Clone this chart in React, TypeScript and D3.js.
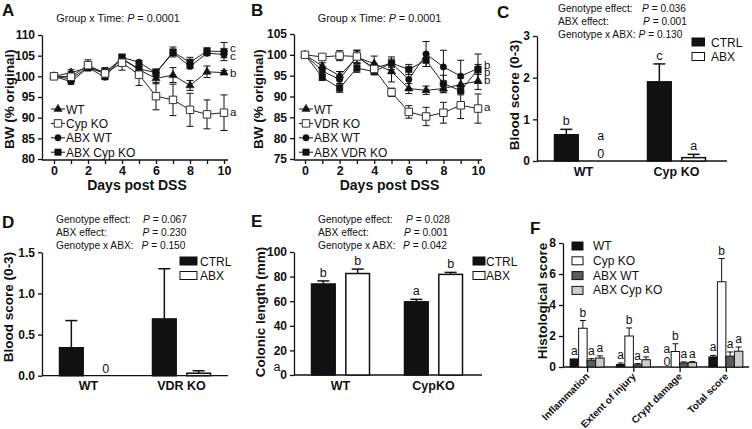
import React, { useEffect, useRef } from 'react';
import * as d3 from 'd3';

const FONT = '"Liberation Sans", Arial, Helvetica, sans-serif';
const INK = '#111';

// ---- A / B: body weight over days post DSS ----
const days = [0, 1, 2, 3, 4, 5, 6, 7, 8, 9, 10];

const aTicks = [80, 85, 90, 95, 100, 105, 110];
const aWT = [100, 100.9, 102.1, 100.7, 104.2, 101.6, 99.5, 100.3, 97.8, 101.1, 100.9];
const aWTErr = [0, 0.7, 0.8, 1.2, 1.0, 1.1, 1.3, 1.8, 1.2, 1.4, 0.5];
const aCypKO = [100, 99.9, 102.7, 100.7, 103.3, 100.4, 95.2, 94.3, 91.9, 90.8, 91.2];
const aCypKOErr = [0, 1.2, 1.3, 1.4, 1.8, 2.6, 3.3, 3.8, 4.0, 3.5, 4.3];
const aAbxWT = [100, 98.7, 102.1, 99.8, 104.6, 103.4, 100.8, 105.7, 102.4, 105.6, 105.3];
const aAbxWTErr = [0, 0.6, 0.5, 0.6, 0.8, 0.4, 0.8, 0.7, 0.5, 0.6, 0.8];
const aAbxCypKO = [100, 99.4, 102.2, 101.0, 104.3, 101.8, 100.9, 105.9, 103.4, 106.1, 106.0];
const aAbxCypKOErr = [0, 0.8, 0.6, 0.8, 0.9, 0.5, 0.9, 1.2, 1.2, 0.8, 2.2];
const aLetters = ['c', 'c', 'b', 'a'];
const aLetterLevels = [106.9, 104.8, 100.8, 91.4];

const bTicks = [75, 80, 85, 90, 95, 100, 105];
const bWT = [100, 97.3, 95.0, 99.4, 97.9, 96.0, 91.9, 91.5, 91.9, 92.9, 93.7];
const bWTErr = [0, 0.8, 1.0, 1.5, 1.8, 2.5, 1.2, 1.0, 1.0, 1.5, 2.0];
const bVdrKO = [100, 99.5, 99.8, 99.6, 96.6, 91.0, 86.3, 85.2, 86.1, 87.9, 87.1];
const bVdrKOErr = [0, 0.5, 1.2, 1.5, 1.2, 1.0, 1.5, 2.2, 2.5, 3.2, 3.5];
const bAbxWT = [100, 96.1, 94.1, 99.6, 96.8, 98.0, 94.1, 100.2, 97.1, 94.9, 96.7];
const bAbxWTErr = [0, 0.8, 1.0, 1.5, 0.8, 1.5, 2.5, 3.0, 4.0, 3.8, 3.5];
const bAbxVdrKO = [100, 94.6, 92.0, 96.8, 96.0, 98.0, 96.5, 98.7, 93.1, 91.4, 96.5];
const bAbxVdrKOErr = [0, 0.7, 1.0, 1.0, 0.8, 1.0, 1.2, 1.5, 2.0, 1.0, 1.2];
const bLetters = ['b', 'b', 'b', 'a'];
const bLetterLevels = [97.6, 95.8, 94.0, 87.4];

// ---- C / D / E: blood score and colon length ----
const treatments = ['CTRL', 'ABX'];
const statNames = ['Genotype effect:', 'ABX effect:', 'Genotype x ABX:'];

const cGroups = ['WT', 'Cyp KO'];
const cTicks = [0, 1, 2, 3];
const cCtrl = [0.63, 1.9];
const cCtrlErr = [0.13, 0.43];
const cAbx = [0, 0.08];
const cAbxErr = [0, 0.08];
const cCtrlLetters = ['b', 'c'];
const cAbxLetters = ['a', 'a'];
const cP = ['0.036', '0.001', '0.130'];

const dGroups = ['WT', 'VDR KO'];
const dTicks = [0, 0.5, 1.0, 1.5];
const dCtrl = [0.34, 0.69];
const dCtrlErr = [0.33, 0.61];
const dAbx = [0, 0.03];
const dAbxErr = [0, 0.03];
const dP = ['0.067', '0.230', '0.150'];

const eGroups = ['WT', 'CypKO'];
const eTicks = [0, 20, 40, 60, 80, 100];
const eCtrl = [74, 59.5];
const eCtrlErr = [2.5, 2.0];
const eAbx = [82.5, 81.8];
const eAbxErr = [3.6, 1.6];
const eCtrlLetters = ['b', 'a'];
const eAbxLetters = ['b', 'b'];
const eP = ['0.028', '0.001', '0.042'];

// ---- F: histology ----
const histCategories = ['Inflammation', 'Extent of injury', 'Crypt damage', 'Total score'];
const histSeries = ['WT', 'Cyp KO', 'ABX WT', 'ABX Cyp KO'];
const fTicks = [0, 2, 4, 6, 8];
const fWT = [0.52, 0.16, 0, 0.65];
const fWTErr = [0, 0.1, 0, 0.1];
const fCypKO = [2.5, 2.0, 1.0, 5.5];
const fCypKOErr = [0.5, 0.52, 0.5, 1.5];
const fAbxWT = [0.44, 0.14, 0.26, 0.7];
const fAbxWTErr = [0.1, 0.08, 0.07, 0.27];
const fAbxCypKO = [0.58, 0.47, 0.28, 1.02];
const fAbxCypKOErr = [0.14, 0.18, 0.07, 0.27];
const fWTLetters = ['a', 'a', 'a', 'a'];
const fCypKOLetters = ['b', 'b', 'b', 'b'];
const fAbxWTLetters = ['a', 'a', 'a', 'a'];
const fAbxCypKOLetters = ['a', 'a', 'a', 'a'];

type Sel = d3.Selection<any, unknown, null, undefined>;
type Kind = 'tri' | 'open' | 'circle' | 'square';

function label(g: Sel, x: number, y: number, s: string, size: number, weight = 'normal', anchor = 'start') {
  return g.append('text')
    .attr('x', x)
    .attr('y', y)
    .attr('font-size', size)
    .attr('font-weight', weight)
    .attr('text-anchor', anchor)
    .attr('fill', INK)
    .text(s);
}

function pText(g: Sel, x: number, y: number, value: string, size: number) {
  const t = g.append('text')
    .attr('x', x)
    .attr('y', y)
    .attr('font-size', size)
    .attr('fill', INK);
  t.append('tspan').attr('font-style', 'italic').text('P');
  t.append('tspan').text(` = ${value}`);
}

function yTitle(g: Sel, x: number, y: number, s: string) {
  g.append('text')
    .attr('transform', `translate(${x},${y}) rotate(-90)`)
    .attr('text-anchor', 'middle')
    .attr('font-size', 13.5)
    .attr('font-weight', 'bold')
    .attr('fill', INK)
    .text(s);
}

function styleAxis(s: Sel, size: number) {
  s.attr('font-family', FONT).attr('font-size', size).attr('font-weight', 'bold');
  s.selectAll('.domain').attr('stroke', INK).attr('stroke-width', 1.3);
  s.selectAll('.tick line').attr('stroke', INK).attr('stroke-width', 1.3);
  s.selectAll('.tick text').attr('fill', INK);
}

function leftAxis(g: Sel, y: d3.ScaleLinear<number, number>, x: number, ticks: number[], fmt: (d: any) => string) {
  const ax = d3.axisLeft(y).tickValues(ticks).tickSize(4).tickSizeOuter(0).tickPadding(3).tickFormat(fmt);
  const s = g.append('g').attr('transform', `translate(${x},0)`).call(ax);
  styleAxis(s, 12);
}

function hLine(g: Sel, x1: number, x2: number, y: number, w = 1.3) {
  g.append('line')
    .attr('x1', x1).attr('x2', x2)
    .attr('y1', y).attr('y2', y)
    .attr('stroke', INK).attr('stroke-width', w);
}

function marker(g: Sel, kind: Kind, cx: number, cy: number) {
  const spec = {
    tri: { type: d3.symbolTriangle, size: 30, fill: INK, stroke: INK, sw: 0.5 },
    open: { type: d3.symbolSquare, size: 56, fill: '#fff', stroke: '#333', sw: 1 },
    circle: { type: d3.symbolCircle, size: 32, fill: INK, stroke: INK, sw: 0.5 },
    square: { type: d3.symbolSquare, size: 42, fill: INK, stroke: INK, sw: 0.5 },
  }[kind];
  g.append('path')
    .attr('d', d3.symbol().type(spec.type).size(spec.size)()!)
    .attr('transform', `translate(${cx},${cy})`)
    .attr('fill', spec.fill)
    .attr('stroke', spec.stroke)
    .attr('stroke-width', spec.sw);
}

interface LineSeries { name: string; values: number[]; errs: number[]; kind: Kind }

function bwPanel(svg: Sel, o: {
  axisX: number; axisEnd: number; x0: number; x1: number;
  yDomain: [number, number]; yTop: number; yBottom: number; yTicks: number[];
  series: LineSeries[]; legendX: number; legendTop: number;
  letters: string[]; letterLevels: number[];
  titleX: number; panel: string; panelX: number; yTitleX: number;
}) {
  const g = svg.append('g');
  const x = d3.scaleLinear().domain([days[0], days[days.length - 1]]).range([o.x0, o.x1]);
  const y = d3.scaleLinear().domain(o.yDomain).range([o.yBottom, o.yTop]);
  const axisY = o.yBottom + 1;

  label(g, o.panelX, 16, o.panel, 17, 'bold');
  const t = g.append('text').attr('x', o.titleX).attr('y', 22).attr('font-size', 10.8)
    .attr('text-anchor', 'middle').attr('fill', INK);
  t.append('tspan').text('Group x Time: ');
  t.append('tspan').attr('font-style', 'italic').text('P');
  t.append('tspan').text(' = 0.0001');

  leftAxis(g, y, o.axisX, o.yTicks, d => String(d));
  const xa = d3.axisBottom(x).tickValues(days).tickSize(4).tickSizeOuter(0).tickPadding(2)
    .tickFormat(d => (+d % 2 === 0 ? String(d) : ''));
  const xs = g.append('g').attr('transform', `translate(0,${axisY})`).call(xa);
  xs.select('.domain').remove();
  styleAxis(xs, 12.5);
  hLine(g, o.axisX, o.axisEnd, axisY);

  label(g, (o.x0 + o.x1) / 2 - 2, 190, 'Days post DSS', 14, 'bold', 'middle');
  yTitle(g, o.yTitleX, 99, 'BW (% original)');

  const line = d3.line<number>().x((_, i) => x(days[i])).y(v => y(v));
  o.series.forEach(s => {
    g.append('path').attr('d', line(s.values)!).attr('fill', 'none')
      .attr('stroke', '#222').attr('stroke-width', 1);
    s.values.forEach((v, i) => {
      const e = s.errs[i];
      if (!e) return;
      const cx = x(days[i]);
      g.append('line').attr('x1', cx).attr('x2', cx).attr('y1', y(v - e)).attr('y2', y(v + e))
        .attr('stroke', INK).attr('stroke-width', 1);
      [v - e, v + e].forEach(c => {
        g.append('line').attr('x1', cx - 3.5).attr('x2', cx + 3.5).attr('y1', y(c)).attr('y2', y(c))
          .attr('stroke', INK).attr('stroke-width', 1);
      });
    });
  });
  [2, 3, 0, 1].forEach(k => {
    const s = o.series[k];
    s.values.forEach((v, i) => marker(g, s.kind, x(days[i]), y(v)));
  });

  o.series.forEach((s, i) => {
    const ly = o.legendTop + i * 14.4;
    hLine(g, o.legendX, o.legendX + 14, ly, 1);
    marker(g, s.kind, o.legendX + 7, ly);
    label(g, o.legendX + 15, ly + 4.5, s.name, 12);
  });

  o.letters.forEach((l, i) => label(g, x(days[days.length - 1]) + 6, y(o.letterLevels[i]) + 4, l, 11.5));
}

interface BarSeries { name: string; values: number[]; errs: number[]; fill: string; letters?: string[] }

function bars(g: Sel, o: {
  centers: (c: string) => number; inner: d3.ScaleBand<string>; groups: string[];
  y: d3.ScaleLinear<number, number>; series: BarSeries[]; capW: number; sw: number;
  zeroOffset: number; zeroLetterGap: number; letterSize: number;
}) {
  const y0 = o.y(0);
  o.series.forEach(s => {
    s.values.forEach((v, j) => {
      const bx = o.centers(o.groups[j]) + o.inner(s.name)!;
      const bw = o.inner.bandwidth();
      const cx = bx + bw / 2;
      const e = s.errs[j];
      if (e > 0) {
        g.append('line').attr('x1', cx).attr('x2', cx).attr('y1', o.y(v)).attr('y2', o.y(v + e))
          .attr('stroke', INK).attr('stroke-width', o.sw);
        g.append('line').attr('x1', cx - o.capW / 2).attr('x2', cx + o.capW / 2)
          .attr('y1', o.y(v + e)).attr('y2', o.y(v + e))
          .attr('stroke', INK).attr('stroke-width', o.sw);
      }
      if (v > 0) {
        g.append('rect').attr('x', bx).attr('y', o.y(v)).attr('width', bw).attr('height', y0 - o.y(v))
          .attr('fill', s.fill).attr('stroke', INK).attr('stroke-width', o.sw);
      }
      const letter = s.letters ? s.letters[j] : '';
      if (v === 0) {
        // zero bars are marked with a "0" just above the axis
        label(g, cx, y0 - o.zeroOffset, '0', 12.5, 'normal', 'middle');
        if (letter) label(g, cx, y0 - o.zeroOffset - o.zeroLetterGap, letter, o.letterSize, 'normal', 'middle');
      } else if (letter) {
        label(g, cx, o.y(v + e) - 4, letter, o.letterSize, 'normal', 'middle');
      }
    });
  });
}

function twoGroupPanel(svg: Sel, o: {
  axisX: number; axisEnd: number; yDomain: [number, number]; yTop: number; yBottom: number;
  yTicks: number[]; fmt: (d: any) => string; groups: string[];
  ctrl: number[]; ctrlErr: number[]; abx: number[]; abxErr: number[];
  ctrlLetters?: string[]; abxLetters?: string[];
  statsX: number; statsPX: number[]; statsY: number; pValues: string[];
  legendX: number; legendBoxW: number; legendTextX: number; legendTop: number;
  panel: string; panelX: number; panelY: number; yTitleX: number; yTitleY: number; title: string;
}) {
  const g = svg.append('g');
  const y = d3.scaleLinear().domain(o.yDomain).range([o.yBottom, o.yTop]);
  const centers = d3.scalePoint<string>().domain(o.groups).range([o.axisX + 46.5, o.axisX + 139.5]);
  const inner = d3.scaleBand<string>().domain(treatments).range([-29, 29]).paddingInner(0.31);

  label(g, o.panelX, o.panelY, o.panel, 17, 'bold');
  statNames.forEach((s, i) => {
    label(g, o.statsX, o.statsY + i * 13, s, 10.2);
    pText(g, o.statsPX[i], o.statsY + i * 13, o.pValues[i], 10.2);
  });

  leftAxis(g, y, o.axisX, o.yTicks, o.fmt);
  hLine(g, o.axisX, o.axisEnd, o.yBottom);
  o.groups.forEach(c => label(g, centers(c)!, o.yBottom + 14.5, c, 12.5, 'bold', 'middle'));
  yTitle(g, o.yTitleX, o.yTitleY, o.title);

  bars(g, {
    centers: c => centers(c)!, inner, groups: o.groups, y,
    series: [
      { name: 'CTRL', values: o.ctrl, errs: o.ctrlErr, fill: INK, letters: o.ctrlLetters },
      { name: 'ABX', values: o.abx, errs: o.abxErr, fill: '#fff', letters: o.abxLetters },
    ],
    capW: 12, sw: 1.5, zeroOffset: 3, zeroLetterGap: 18, letterSize: 12.5,
  });

  treatments.forEach((t, i) => {
    const ly = o.legendTop + i * 14.5;
    g.append('rect').attr('x', o.legendX).attr('y', ly).attr('width', o.legendBoxW).attr('height', 8)
      .attr('fill', i === 0 ? INK : '#fff').attr('stroke', INK).attr('stroke-width', 1);
    label(g, o.legendTextX, ly + 8.5, t, 12);
  });
}

export default function App() {
  const ref = useRef<SVGSVGElement | null>(null);

  useEffect(() => {
    if (!ref.current) return;
    const svg = d3.select(ref.current) as Sel;
    svg.selectAll('*').remove();
    svg.attr('font-family', FONT);
    svg.append('rect').attr('width', 752).attr('height', 429).attr('fill', '#fff');

    // A
    bwPanel(svg, {
      axisX: 42, axisEnd: 228, x0: 54, x1: 224, yDomain: [80, 110], yTop: 35, yBottom: 159,
      yTicks: aTicks,
      series: [
        { name: 'WT', values: aWT, errs: aWTErr, kind: 'tri' },
        { name: 'Cyp KO', values: aCypKO, errs: aCypKOErr, kind: 'open' },
        { name: 'ABX WT', values: aAbxWT, errs: aAbxWTErr, kind: 'circle' },
        { name: 'ABX Cyp KO', values: aAbxCypKO, errs: aAbxCypKOErr, kind: 'square' },
      ],
      legendX: 51, legendTop: 109, letters: aLetters, letterLevels: aLetterLevels,
      titleX: 118, panel: 'A', panelX: 2, yTitleX: 14,
    });

    // B
    bwPanel(svg, {
      axisX: 294, axisEnd: 482, x0: 305, x1: 478, yDomain: [75, 105], yTop: 34, yBottom: 159,
      yTicks: bTicks,
      series: [
        { name: 'WT', values: bWT, errs: bWTErr, kind: 'tri' },
        { name: 'VDR KO', values: bVdrKO, errs: bVdrKOErr, kind: 'open' },
        { name: 'ABX WT', values: bAbxWT, errs: bAbxWTErr, kind: 'circle' },
        { name: 'ABX VDR KO', values: bAbxVdrKO, errs: bAbxVdrKOErr, kind: 'square' },
      ],
      legendX: 299, legendTop: 109, letters: bLetters, letterLevels: bLetterLevels,
      titleX: 379.5, panel: 'B', panelX: 251, yTitleX: 263,
    });

    // C
    twoGroupPanel(svg, {
      axisX: 537, axisEnd: 727, yDomain: [0, 3], yTop: 36, yBottom: 161, yTicks: cTicks,
      fmt: d => String(d), groups: cGroups,
      ctrl: cCtrl, ctrlErr: cCtrlErr, abx: cAbx, abxErr: cAbxErr,
      ctrlLetters: cCtrlLetters, abxLetters: cAbxLetters,
      statsX: 558, statsPX: [642, 643, 638.5], statsY: 11.5, pValues: cP,
      legendX: 692, legendBoxW: 12.5, legendTextX: 711, legendTop: 38,
      panel: 'C', panelX: 497, panelY: 18, yTitleX: 519, yTitleY: 95, title: 'Blood score (0-3)',
    });

    // D
    twoGroupPanel(svg, {
      axisX: 42, axisEnd: 228, yDomain: [0, 1.5], yTop: 252.3, yBottom: 375.7, yTicks: dTicks,
      fmt: d => d3.format('.1f')(d), groups: dGroups,
      ctrl: dCtrl, ctrlErr: dCtrlErr, abx: dAbx, abxErr: dAbxErr,
      statsX: 56, statsPX: [143, 142.5, 141.5], statsY: 222.5, pValues: dP,
      legendX: 180, legendBoxW: 17, legendTextX: 200, legendTop: 257,
      panel: 'D', panelX: 2, panelY: 228, yTitleX: 13, yTitleY: 307, title: 'Blood score (0-3)',
    });

    // E
    twoGroupPanel(svg, {
      axisX: 294, axisEnd: 482, yDomain: [0, 100], yTop: 252, yBottom: 375, yTicks: eTicks,
      fmt: d => String(d), groups: eGroups,
      ctrl: eCtrl, ctrlErr: eCtrlErr, abx: eAbx, abxErr: eAbxErr,
      ctrlLetters: eCtrlLetters, abxLetters: eAbxLetters,
      statsX: 318, statsPX: [406, 404, 403], statsY: 222.5, pValues: eP,
      legendX: 473, legendBoxW: 12, legendTextX: 486, legendTop: 257,
      panel: 'E', panelX: 251, panelY: 227, yTitleX: 265, yTitleY: 312, title: 'Colonic length (mm)',
    });
    label(svg, 277, 371, 'a', 12.5, 'normal', 'middle');

    // F
    const g = svg.append('g');
    const fAxisX = 563;
    const fAxisEnd = 749;
    const y = d3.scaleLinear().domain([0, 8]).range([367, 243]);
    const cat = d3.scaleBand<string>().domain(histCategories).range([fAxisX + 1, fAxisEnd]);
    const inner = d3.scaleBand<string>().domain(histSeries).range([-17, 17]);
    const center = (c: string) => cat(c)! + cat.bandwidth() / 2;
    label(g, 530, 234, 'F', 17, 'bold');
    leftAxis(g, y, fAxisX, fTicks, d => String(d));
    const xa = d3.axisBottom(d3.scalePoint<string>().domain(histCategories)
      .range([center(histCategories[0]), center(histCategories[histCategories.length - 1])]))
      .tickSize(5).tickSizeOuter(0).tickFormat(() => '');
    const xs = g.append('g').attr('transform', 'translate(0,367)').call(xa);
    xs.select('.domain').remove();
    styleAxis(xs, 10);
    hLine(g, fAxisX, fAxisEnd, 367);
    histCategories.forEach(c => {
      g.append('text')
        .attr('transform', `translate(${center(c) + 3},${377}) rotate(-45)`)
        .attr('text-anchor', 'end')
        .attr('font-size', 10)
        .attr('font-weight', 'bold')
        .attr('fill', INK)
        .text(c);
    });
    yTitle(g, 547, 301, 'Histological score');
    bars(g, {
      centers: center, inner, groups: histCategories, y,
      series: [
        { name: 'WT', values: fWT, errs: fWTErr, fill: INK, letters: fWTLetters },
        { name: 'Cyp KO', values: fCypKO, errs: fCypKOErr, fill: '#fff', letters: fCypKOLetters },
        { name: 'ABX WT', values: fAbxWT, errs: fAbxWTErr, fill: '#5c5c5c', letters: fAbxWTLetters },
        { name: 'ABX Cyp KO', values: fAbxCypKO, errs: fAbxCypKOErr, fill: '#cdcdcd', letters: fAbxCypKOLetters },
      ],
      capW: 6, sw: 1, zeroOffset: 1, zeroLetterGap: 13, letterSize: 12,
    });
    const fFills = [INK, '#fff', '#5c5c5c', '#cdcdcd'];
    histSeries.forEach((s, i) => {
      const ly = 242 + i * 14.8;
      g.append('rect').attr('x', 572).attr('y', ly).attr('width', 11).attr('height', 8)
        .attr('fill', fFills[i]).attr('stroke', INK).attr('stroke-width', 1);
      label(g, 593, ly + 8, s, 12);
    });
  }, []);

  return <svg ref={ref} width={752} height={429} style={{ position: 'absolute', left: 0, top: 0 }} />;
}
